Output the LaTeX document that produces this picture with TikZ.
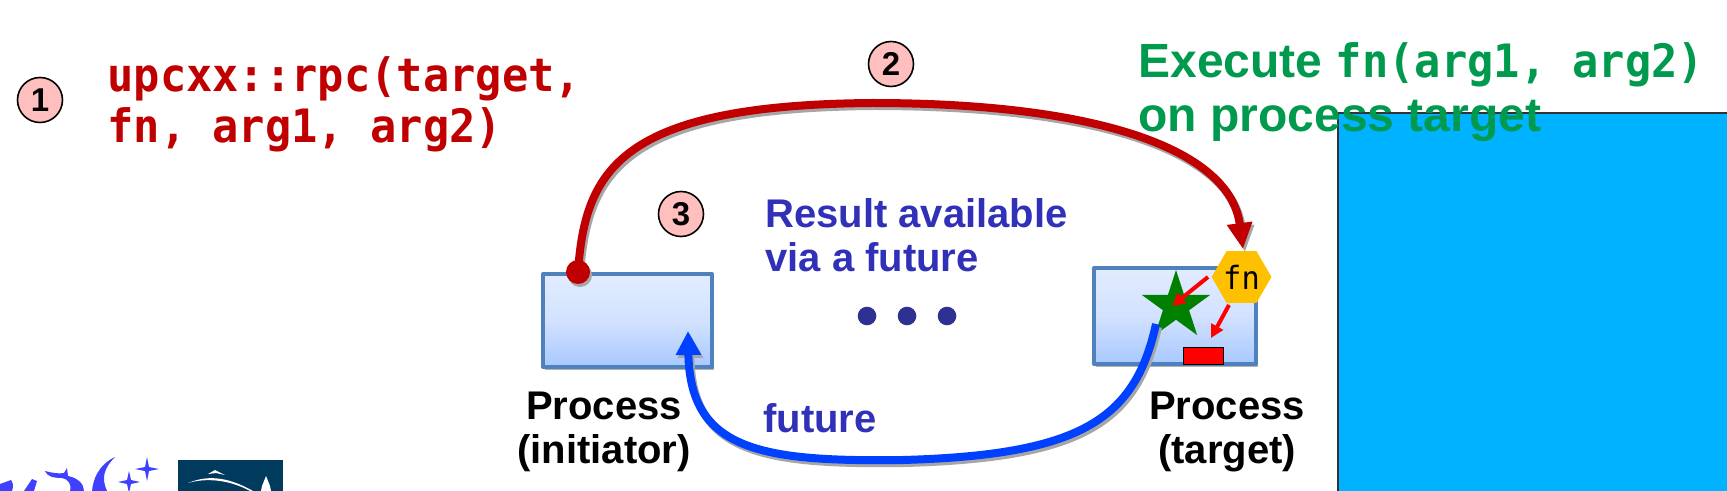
\documentclass[tikz,border=0pt]{standalone}
\usepackage{fontspec}
\setmainfont{Liberation Sans}
\newfontfamily\codefont[FakeStretch=.95]{DejaVu Sans Mono}
\usetikzlibrary{shapes.geometric,arrows.meta,shadows}
\definecolor{rpcred}{HTML}{C00000}
\definecolor{execgreen}{HTML}{009A4E}
\definecolor{resultblue}{HTML}{3030B8}
\definecolor{retblue}{HTML}{0040FF}
\definecolor{dotblue}{HTML}{2E3192}
\definecolor{boxline}{HTML}{4F81BD}
\definecolor{boxtop}{HTML}{E2ECFF}
\definecolor{boxmid}{HTML}{D2E2FF}
\definecolor{boxlow}{HTML}{A8C8FF}
\definecolor{cellblue}{HTML}{00B2FF}
\definecolor{fnhexfill}{HTML}{FFC000}
\definecolor{logoblue}{HTML}{4040FF}
\definecolor{lablogo}{HTML}{003A5C}
\tikzset{
procbox/.style={draw=boxline,line width=2pt,top color=boxtop,bottom color=boxlow,middle color=boxmid,inner sep=0,drop shadow={shadow xshift=1pt,shadow yshift=-1.5pt,fill=gray,opacity=.6}},
stepmark/.style={circle,draw=black,line width=.8pt,fill=pink,minimum size=22.5pt,inner sep=0,font=\bfseries\fontsize{16.5}{16.5}\selectfont},
proclabel/.style={align=center,inner sep=0,font=\bfseries\fontsize{20}{22}\selectfont},
resultlabel/.style={align=left,inner sep=0,text=resultblue,font=\bfseries\fontsize{20}{22}\selectfont},
shadowline/.style={transform canvas={shift={(1pt,-1.5pt)}},draw=gray!70},
rpcarc/.style={line width=4pt,-{Triangle[width=12pt,length=13pt]}},
retarc/.style={line width=4pt,-{Triangle[width=12pt,length=12pt]}},
fnarrow/.style={draw=red,line width=2pt,-{Triangle[width=6.5pt,length=6.5pt]}}
}
\begin{document}
\begin{tikzpicture}[x=.5pt,y=-.5pt,line join=round]
\useasboundingbox (0,0) rectangle (1727,491);
\clip (0,0) rectangle (1727,491);
\fill[white] (0,0) rectangle (1727,491);
\draw[fill=cellblue,draw=black!80,line width=.7pt] (1338,113) rectangle (1740,500);

\node[procbox,minimum width=84.5pt,minimum height=46.5pt] (initiator) at (627.5,320.5) {};
\node[procbox,minimum width=81pt,minimum height=48pt] (target) at (1175,316) {};
\node[star,star points=5,star point ratio=2.618,fill=green!50!black,minimum size=36pt,inner sep=0] (fnstar) at (1176,306) {};
\node[draw=black,line width=.8pt,fill=red,minimum width=20pt,minimum height=8.5pt,inner sep=0] (fnresult) at (1203.5,356) {};
\node[regular polygon,regular polygon sides=6,fill=fnhexfill,minimum size=27.5pt,inner sep=0,font=\codefont\fontsize{16}{16}\selectfont] (fnhex) at (1241.5,277) {fn};

\coordinate (rpctop) at (872,103);
\coordinate (rpctip) at (1243,249);
\coordinate (retstart) at (1156,324);
\coordinate (retlow) at (903,460);
\coordinate (rettip) at (688,331);
\coordinate (fnstart) at (1208,277);
\coordinate (fnstartb) at (1229,305);
\coordinate (startip) at (1172,306);
\coordinate (restip) at (1211,338);

\node[circle,fill=gray!70,minimum size=12pt,inner sep=0] (rpcdotsh) at (580,275) {};
\draw[shadowline,rpcarc] (578,272) .. controls (585,170) and (620,105) .. (rpctop) .. controls (1100,103) and (1230,150) .. (rpctip);
\draw[shadowline,retarc] (retstart) .. controls (1135,420) and (1080,455) .. (retlow) .. controls (760,462) and (690,450) .. (rettip);
\node[circle,fill=rpcred,minimum size=12pt,inner sep=0] (rpcdot) at (578,272) {};
\draw[rpcarc,draw=rpcred] (rpcdot.center) .. controls (585,170) and (620,105) .. (rpctop) .. controls (1100,103) and (1230,150) .. (rpctip);
\draw[retarc,draw=retblue] (retstart) .. controls (1135,420) and (1080,455) .. (retlow) .. controls (760,462) and (690,450) .. (rettip);
\draw[fnarrow] (fnstart)--(startip);
\draw[fnarrow] (fnstartb)--(restip);

\foreach \i/\x/\y in {1/40/100,2/891/64,3/681/214}{\node[stepmark] (step\i) at (\x,\y) {\i};}
\foreach \i/\x in {a/867,b/907,c/947}{\node[circle,fill=dotblue,minimum size=9.3pt,inner sep=0] (dot\i) at (\x,316) {};}

\node[anchor=base west,inner sep=0,text=rpcred,font=\codefont\bfseries\fontsize{23}{25.5}\selectfont,align=left] (rpccall) at (107,143) {upcxx::rpc(target,\\fn, arg1, arg2)};
\node[anchor=base west,inner sep=0,text=execgreen,font=\bfseries\fontsize{24}{27}\selectfont,align=left] (execline) at (1138,132) {Execute {\codefont\fontsize{23}{27}\selectfont fn(arg1, arg2)}\\on process target};
\node[resultlabel,anchor=base west] (result) at (765,272) {Result available\\via a future};
\node[resultlabel,anchor=base west] (future) at (763,432) {future};
\node[proclabel,anchor=base] (procinit) at (604,463) {Process\\(initiator)};
\node[proclabel,anchor=base] (proctarget) at (1227,463) {Process\\(target)};

\fill[logoblue] (115,457) .. controls (98,465) and (93,480) .. (92,491) -- (107,491) .. controls (101,478) and (104,468) .. (115,457);
\fill[logoblue] (45,471) .. controls (52,473) and (60,474) .. (64,473) -- (67,468) -- (68,476) .. controls (78,478) and (84,484) .. (84,491) -- (70,491) .. controls (72,484) and (68,479) .. (62,478) .. controls (52,478) and (47,476) .. (45,471);
\fill[logoblue] (32,479) -- (24,491) -- (34,491) -- (37,481) -- cycle;
\fill[logoblue] (0,484) -- (11,480) .. controls (14,484) and (13,488) .. (12,491) -- (0,491) -- cycle;
\foreach \x/\y/\r in {147/469/12,129/482/11}{\fill[logoblue] (\x,\y-\r) -- (\x+2,\y-2) -- (\x+\r,\y) -- (\x+2,\y+2) -- (\x,\y+\r) -- (\x-2,\y+2) -- (\x-\r,\y) -- (\x-2,\y-2) -- cycle;}

\fill[lablogo] (178,460) rectangle (283,495);
\fill[white] (188,483) .. controls (205,476) and (225,475) .. (253,491) -- (250,491) .. controls (228,479) and (205,478) .. (188,483);
\fill[white] (208,474) -- (215,470) -- (225,475) -- (216,473) -- cycle;
\fill[white] (266,476) -- (270,486) -- (271,491) -- (261,491) -- (262,486) -- cycle;
\end{tikzpicture}
\end{document}
